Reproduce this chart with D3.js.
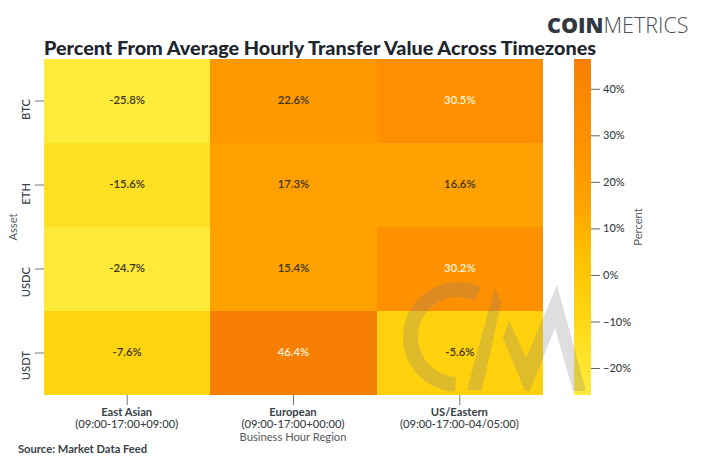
<!DOCTYPE html>
<html><head><meta charset="utf-8">
<script src="https://cdn.jsdelivr.net/npm/d3@7"></script>
<style>html,body{margin:0;background:#fff;overflow:hidden}svg{display:block}text{font-family:Lato,sans-serif}</style>
</head><body><svg id="c" width="701" height="466"></svg>
<script>
const assets = ["BTC","ETH","USDC","USDT"];
const regions = ["East Asian","European","US/Eastern"];
const regionHours = ["(09:00-17:00+09:00)","(09:00-17:00+00:00)","(09:00-17:00-04/05:00)"];
const btcValues = [-25.8,22.6,30.5];
const ethValues = [-15.6,17.3,16.6];
const usdcValues = [-24.7,15.4,30.2];
const usdtValues = [-7.6,46.4,-5.6];
const rows = [btcValues,ethValues,usdcValues,usdtValues];
const colorTicks = [-20,-10,0,10,20,30,40];
const colorStops = [-25.8,-15,-7,5,15,30,46.4];
const colorRange = ["#ffeb3b","#ffdf24","#ffd30f","#ffbf00","#ffa300","#ff9000","#f77f06"];

const svg = d3.select("#c");
const x = d3.scaleBand().domain(regions).range([44,543]);
const y = d3.scaleBand().domain(assets).range([59,395]);
const color = d3.scaleLinear().domain(colorStops).range(colorRange);
const ink = "#3a3f47";

svg.append("text").attr("x",44).attr("y",55).attr("font-size",19.8).attr("font-weight",900)
  .attr("fill","#20242c").text("Percent From Average Hourly Transfer Value Across Timezones");

// logo
const logo = svg.append("text").attr("x",547).attr("y",32.5).attr("font-size",21.5).attr("fill","#33373f")
  .style("font-family","'Open Sans',sans-serif");
logo.append("tspan").attr("font-weight",800).text("COIN");
logo.append("tspan").attr("font-weight",300).attr("fill","#4a4e56").text("METRICS");

// cells
rows.forEach((vals,r)=>vals.forEach((v,c)=>{
  svg.append("rect").attr("x",x(regions[c])).attr("y",y(assets[r]))
    .attr("width",x.bandwidth()).attr("height",y.bandwidth()).attr("fill",color(v))
    .attr("shape-rendering","crispEdges");
  svg.append("text").attr("x",x(regions[c])+x.bandwidth()/2).attr("y",y(assets[r])+y.bandwidth()/2+0.5)
    .attr("text-anchor","middle").attr("dominant-baseline","middle")
    .attr("font-size",11.3).attr("font-weight",600)
    .attr("fill",v>30?"#fff3d6":"#3d3420").text(v.toFixed(1)+"%");
}));

// axes
const yAxis = d3.axisLeft(y).tickSize(9);
const gy = svg.append("g").attr("transform","translate(44,0)").call(yAxis);
gy.select(".domain").remove();
gy.selectAll("line").attr("stroke","#777");
gy.selectAll("text").attr("transform","rotate(-90)")
  .attr("x",2).attr("y",-14.5).attr("dy",0).attr("dx",0)
  .attr("text-anchor","end").attr("font-size",11.2).attr("font-weight",500).attr("fill",ink);

const xAxis = d3.axisBottom(x).tickSize(10).tickFormat(()=>"");
const gx = svg.append("g").attr("transform","translate(0,395)").call(xAxis);
gx.select(".domain").remove();
gx.selectAll("line").attr("stroke","#777");
regions.forEach((d,i)=>{
  const cx = x(d)+x.bandwidth()/2;
  svg.append("text").attr("x",cx-0.5).attr("y",416).attr("text-anchor","middle").attr("font-size",11.2)
    .attr("font-weight",700).attr("fill",ink).text(d);
  svg.append("text").attr("x",cx-0.5).attr("y",428).attr("text-anchor","middle").attr("font-size",11.2)
    .attr("font-weight",500).attr("fill",ink).text(regionHours[i]);
});
svg.append("text").attr("x",293).attr("y",441).attr("text-anchor","middle").attr("font-size",11.2)
  .attr("fill","#555a62").text("Business Hour Region");
svg.append("text").attr("transform","translate(17,227) rotate(-90)")
  .attr("text-anchor","middle").attr("font-size",11.2).attr("fill","#555a62").text("Asset");
svg.append("text").attr("x",18).attr("y",453).attr("font-size",11.2).attr("font-weight",700)
  .attr("fill",ink).text("Source: Market Data Feed");

// colorbar
const cScale = d3.scaleLinear().domain([-25.8,46.4]).range([395,59]);
const grad = svg.append("defs").append("linearGradient").attr("id","g")
  .attr("x1",0).attr("x2",0).attr("y1",1).attr("y2",0);
colorStops.forEach((s,i)=>grad.append("stop")
  .attr("offset",(s+25.8)/72.2).attr("stop-color",colorRange[i]));
svg.append("rect").attr("x",574).attr("y",59).attr("width",17).attr("height",336).attr("fill","url(#g)");
const gc = svg.append("g").attr("transform","translate(591,0)")
  .call(d3.axisRight(cScale).tickValues(colorTicks).tickSize(9).tickPadding(3)
    .tickFormat(d=>(d<0?"\u2212"+(-d):d)+"%"));
gc.select(".domain").remove();
gc.selectAll("line").attr("stroke","#666");
gc.selectAll("text").attr("font-size",11).attr("font-weight",500).attr("fill",ink);
svg.append("text").attr("transform","translate(642,227) rotate(-90)").attr("text-anchor","middle")
  .attr("font-size",11.2).attr("fill","#555a62").text("Percent");

// watermark
const wm = svg.append("g").attr("fill","#808080").attr("opacity",0.26);
wm.append("path").attr("transform","translate(458,337)")
  .attr("d",d3.arc().innerRadius(40).outerRadius(55).startAngle(0.43).endAngle(-3.09)());
wm.append("path").attr("d","M495,287 L501,303 L482,390 L467,390 Z");
wm.append("path").attr("d","M503,338 L509,320 L526,358 L557,285 L586,391 L573,391 L555,328 L530,391 L525,391 Z");
</script></body></html>
